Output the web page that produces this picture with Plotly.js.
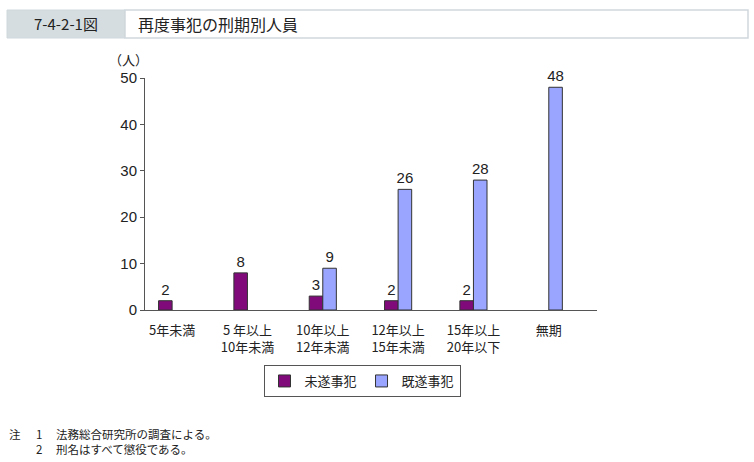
<!DOCTYPE html>
<html>
<head>
<meta charset="utf-8">
<script src="https://cdn.plot.ly/plotly-3.0.1.min.js"></script>
<style>
  html, body { margin: 0; padding: 0; background: #fff; }
  #plotly_graph { width: 754px; height: 462px; }
</style>
</head>
<body>
<div id="plotly_graph"></div>
<script>
//**************************************************************************
//~~~~~~~~~~~~~~~~~~~~~~~~~~~~~~~~~~ DATA ~~~~~~~~~~~~~~~~~~~~~~~~~~~~~~~~~~
//**************************************************************************

const CATEGORIES = ['5年未満', '5 年以上<br>10年未満', '10年以上<br>12年未満',
                    '12年以上<br>15年未満', '15年以上<br>20年以下', '無期']
const MISUI = [2, 8, 3, 2, 2, null]          // 未遂事犯
const KISUI = [null, null, 9, 26, 28, 48]    // 既遂事犯
const Y_TICKS = [0, 10, 20, 30, 40, 50]

//**************************************************************************
//~~~~~~~~~~~~~~~~~~~~~~~~~~~~~~~~~ LAYOUT ~~~~~~~~~~~~~~~~~~~~~~~~~~~~~~~~~
//**************************************************************************

const W = 754, H = 462
const M = { l: 145, r: 157, t: 78, b: 152 }
// pixel -> paper helpers for the decorations outside the plot area
const px = x => (x - M.l) / (W - M.l - M.r)
const py = y => (H - M.b - y) / (H - M.t - M.b)

const FONT = '"Liberation Sans", Arial, "Noto Sans CJK JP", sans-serif'
const JFONT = '"Noto Sans CJK JP", "Liberation Sans", sans-serif'

let graphDiv = document.getElementById('plotly_graph')

let trace1 = {
    name: '未遂事犯',
    type: 'bar',
    x: CATEGORIES,
    y: MISUI,
    text: MISUI.map(v => v == null ? '' : String(v)),
    textposition: 'outside',
    constraintext: 'none',
    cliponaxis: false,
    textfont: { family: FONT, size: 15, color: '#222' },
    marker: { color: '#800a7a', line: { color: '#333', width: 1 } },
    hoverinfo: 'skip'
}

let trace2 = {
    name: '既遂事犯',
    type: 'bar',
    x: CATEGORIES,
    y: KISUI,
    text: KISUI.map(v => v == null ? '' : String(v)),
    textposition: 'outside',
    constraintext: 'none',
    cliponaxis: false,
    textfont: { family: FONT, size: 15, color: '#222' },
    marker: { color: '#9aa5ff', line: { color: '#333', width: 1 } },
    hoverinfo: 'skip'
}

let data = [trace1, trace2]

// note lines: 注 / number / text columns
const noteStyle = { family: JFONT, size: 11.5, color: '#222' }
const note = (text, x, y) => ({
    text: text, xref: 'paper', yref: 'paper',
    x: px(x), y: py(y), xanchor: 'left', yanchor: 'middle',
    showarrow: false, font: noteStyle
})

let layout = {
    width: W,
    height: H,
    margin: M,
    paper_bgcolor: '#fff',
    plot_bgcolor: '#fff',
    font: { family: JFONT, size: 13, color: '#222' },
    barmode: 'group',
    bargap: 0.64,
    bargroupgap: 0,
    showlegend: true,
    legend: {
        orientation: 'h',
        x: px(362), xanchor: 'center',
        y: py(381), yanchor: 'middle',
        bordercolor: '#555',
        borderwidth: 1,
        font: { family: JFONT, size: 13, color: '#222' },
        itemwidth: 30,
        traceorder: 'normal'
    },
    xaxis: {
        type: 'category',
        range: [-0.36, 5.64],
        showline: true,
        linecolor: '#555',
        linewidth: 1,
        ticks: '',
        ticklabelstandoff: 8,
        showgrid: false,
        tickfont: { family: JFONT, size: 13, color: '#222' },
        fixedrange: true
    },
    yaxis: {
        range: [0, 50],
        tickvals: Y_TICKS,
        showline: true,
        linecolor: '#555',
        linewidth: 1,
        ticks: 'outside',
        ticklen: 4,
        tickcolor: '#555',
        showgrid: false,
        zeroline: false,
        tickfont: { family: FONT, size: 15, color: '#222' },
        fixedrange: true
    },
    shapes: [
        // title bar: gray label box + white title box
        { type: 'rect', xref: 'paper', yref: 'paper',
          x0: px(7), x1: px(125), y0: py(38), y1: py(10),
          fillcolor: '#d5dde1', line: { color: '#cfd8dc', width: 1 } },
        { type: 'rect', xref: 'paper', yref: 'paper',
          x0: px(125), x1: px(748), y0: py(38), y1: py(10),
          fillcolor: '#fff', line: { color: '#cfd8dc', width: 1.5 } }
    ],
    annotations: [
        { text: '7-4-2-1図', xref: 'paper', yref: 'paper',
          x: px(66), y: py(24), xanchor: 'center', yanchor: 'middle',
          showarrow: false, font: { family: JFONT, size: 15, color: '#222' } },
        { text: '再度事犯の刑期別人員', xref: 'paper', yref: 'paper',
          x: px(136), y: py(24), xanchor: 'left', yanchor: 'middle',
          showarrow: false, font: { family: JFONT, size: 16, color: '#222' } },
        { text: '（人）', xref: 'paper', yref: 'paper',
          x: px(128), y: py(59), xanchor: 'center', yanchor: 'middle',
          showarrow: false, font: { family: JFONT, size: 13, color: '#222' } },
        note('注', 7, 434),
        note('1', 34, 434),
        note('法務総合研究所の調査による。', 54, 434),
        note('2', 34, 449),
        note('刑名はすべて懲役である。', 54, 449)
    ]
}

const config = {
    displaylogo: false,
    displayModeBar: false,
    staticPlot: true
}

Plotly.newPlot(graphDiv, data, layout, config)
</script>
</body>
</html>
